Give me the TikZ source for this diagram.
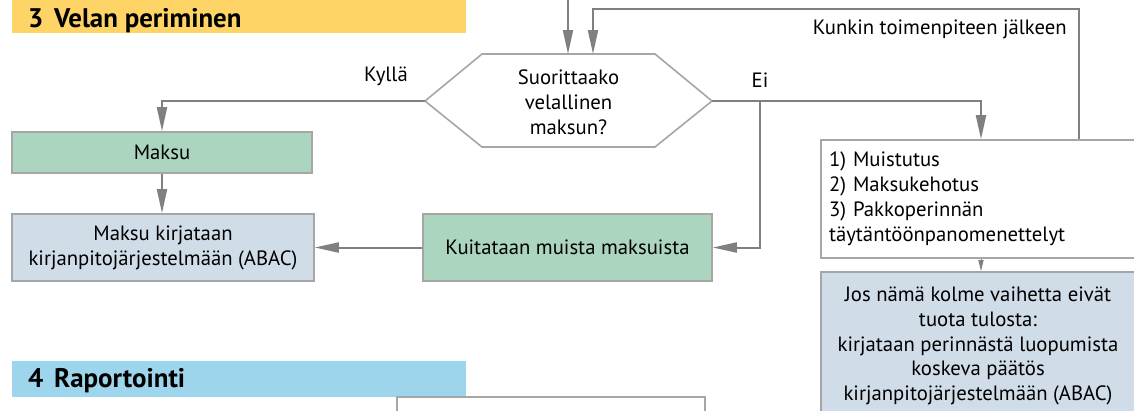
\documentclass[tikz,border=0pt]{standalone}
\usepackage{fontspec}
\setmainfont{PT Sans}
\newfontfamily\headfont{PT Sans}
\usetikzlibrary{arrows.meta}
\definecolor{ybanner}{HTML}{FFD466}
\definecolor{bbanner}{HTML}{9DD6EC}
\definecolor{gbox}{HTML}{ABD5BF}
\definecolor{lbox}{HTML}{D0DCE8}
\definecolor{conn}{HTML}{808080}
\definecolor{bord}{HTML}{A6A6A6}
\tikzset{
  txt/.style={font=\fontsize{20.8}{25}\selectfont, text=black},
  boxbase/.style={txt, draw=bord, line width=1.6bp, inner sep=0pt, align=center},
  greenbox/.style={boxbase, fill=gbox},
  bluebox/.style={boxbase, fill=lbox},
  whitebox/.style={boxbase, fill=white},
  conline/.style={draw=conn, line width=2bp},
  arr/.style={conline, -{Triangle[length=24bp,width=10bp]}},
  smallarr/.style={draw=conn, line width=1bp, -{Triangle[length=11bp,width=5bp]}},
  banner/.style={inner sep=0pt, minimum width=454bp, anchor=north west},
  bannertext/.style={anchor=base west, inner sep=0pt, font=\headfont\bfseries\fontsize{27}{30}\selectfont},
}
\begin{document}
\begin{tikzpicture}[x=1bp,y=-1bp]
\useasboundingbox (0,0) rectangle (1134,410);
\clip (0,0) rectangle (1134,410);
% banners
\node[banner, fill=ybanner, minimum height=33bp] (b3) at (12,0) {};
\node[bannertext] (b3t) at (28,27) {3\hspace{0.4em}Velan periminen};
\node[banner, fill=bbanner, minimum height=36bp] (b4) at (12,361) {};
\node[bannertext] (b4t) at (28,387) {4\hspace{0.4em}Raportointi};
% decision
\draw[draw=bord, line width=1.6bp, fill=white] (482,54) -- (655,54) -- (712,101) -- (655,147) -- (482,147) -- (425,101) -- cycle;
\node[txt, align=center, inner sep=0pt] (q) at (568.5,102) {Suorittaako\\velallinen\\maksun?};
\coordinate (qN1) at (568,54);
\coordinate (qN2) at (593,54);
\coordinate (qW) at (425,101);
\coordinate (qE) at (712,101);
\coordinate (top) at (568,0);
% boxes
\node[greenbox, minimum width=300bp, minimum height=41bp] (maksu) at (162,152.5) {Maksu};
\node[bluebox, minimum width=302bp, minimum height=67bp] (kirj) at (163,247.5) {Maksu kirjataan\\kirjanpitoj\"arjestelm\"a\"an (ABAC)};
\node[greenbox, minimum width=289bp, minimum height=67bp] (kuit) at (567.5,247.5) {Kuitataan muista maksuista};
\node[whitebox, minimum width=314bp, minimum height=118bp, text width=298bp, align=left] (toim) at (978,199) {1) Muistutus\\2) Maksukehotus\\3) Pakkoperinn\"an\\t\"ayt\"ant\"o\"onpanomenettelyt};
\node[bluebox, minimum width=314bp, minimum height=148bp] (jos) at (978,346) {Jos n\"am\"a kolme vaihetta eiv\"at\\tuota tulosta:\\kirjataan perinn\"ast\"a luopumista\\koskeva p\"a\"at\"os\\kirjanpitoj\"arjestelm\"a\"an (ABAC)};
\node[whitebox, minimum width=308bp, minimum height=30bp] (rap) at (551,412) {};
% labels
\node[txt, inner sep=0pt] (kylla) at (386,76) {Kyll\"a};
\node[txt, inner sep=0pt] (ei) at (760,80) {Ei};
\node[txt, inner sep=0pt, anchor=east] (kunkin) at (1067,29) {Kunkin toimenpiteen j\"alkeen};
% connectors
\coordinate (loopR) at (1079,9);
\coordinate (loopL) at (593,9);
\coordinate (eiR) at (981,101);
\coordinate (branch) at (760,101);
\draw[arr] (top) -- (qN1);
\draw[arr] (toim.north -| loopR) -- (loopR) -- (loopL) -- (qN2);
\draw[arr] (qW) -| (maksu.north);
\draw[arr] (maksu.south) -- (kirj.north -| maksu.south);
\draw[arr] (kuit.west) -- (kirj.east |- kuit.west);
\draw[arr] (qE) -- (eiR) -- (toim.north -| eiR);
\draw[arr] (branch) |- (kuit.east);
\draw[smallarr] (toim.south -| eiR) -- (jos.north -| eiR);
\end{tikzpicture}
\end{document}
